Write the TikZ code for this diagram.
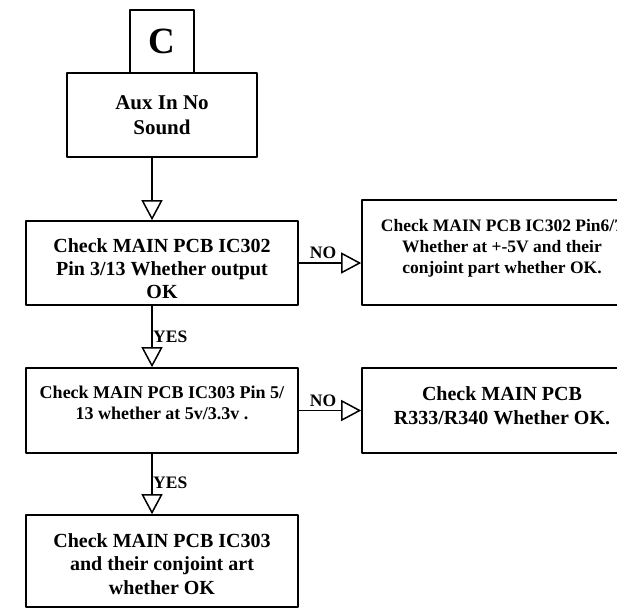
\documentclass[tikz,border=0pt]{standalone}
\usepackage{fontspec}
\setmainfont{Liberation Serif}
\usetikzlibrary{arrows.meta}
\tikzset{
    box/.style = {draw, line width=1.6pt, align=center, inner sep=0pt,
        font=\bfseries\fontsize{20}{23}\selectfont},
    flow/.style = {-{Triangle[open, length=20pt, width=21pt]}, line width=1.5pt},
    tag/.style = {inner sep=0pt, font=\bfseries\fontsize{17.5}{20}\selectfont}
}

\begin{document}
\begin{tikzpicture}[line cap=round,line join=round,x=1pt,y=-1pt]
    \useasboundingbox (0,0) rectangle (617,608);
    \clip (0,0) rectangle (617,608);

    \node [box, minimum width=64pt, minimum height=63pt,
        font=\bfseries\fontsize{37}{40}\selectfont] (start) at (162,41.5) {C};
    \node [box, minimum width=190pt, minimum height=84pt,
        font=\bfseries\fontsize{21}{25}\selectfont] (aux) at (162,115) {Aux In No\\Sound};

    \node [box, minimum width=272pt, minimum height=84pt] (ictwo) at (162,263)
        {\rule{0pt}{26pt}Check MAIN PCB IC302\\Pin 3/13 Whether output\\OK};
    \node [box, minimum width=280pt, minimum height=105pt,
        font=\bfseries\fontsize{17.5}{21}\selectfont] (pins) at (502,252.5)
        {Check MAIN PCB IC302 Pin6/7\\Whether at +-5V and their\\conjoint part whether OK.\rule[-12pt]{0pt}{0pt}};

    \node [box, minimum width=272pt, minimum height=85pt,
        font=\bfseries\fontsize{18}{21}\selectfont] (icthree) at (162,410.5)
        {Check MAIN PCB IC303 Pin 5/\\13 whether at 5v/3.3v .\rule[-16pt]{0pt}{0pt}};
    \node [box, minimum width=280pt, minimum height=85pt,
        font=\bfseries\fontsize{20}{24}\selectfont] (res) at (502,410.5)
        {Check MAIN PCB\\R333/R340 Whether OK.\rule[-10pt]{0pt}{0pt}};

    \node [box, minimum width=272pt, minimum height=92pt,
        font=\bfseries\fontsize{20}{23.5}\selectfont] (parts) at (162,561)
        {\rule{0pt}{20pt}Check MAIN PCB IC303\\and their conjoint art\\whether OK};

    % main column
    \coordinate (col) at (152,0);
    \draw [flow] (aux.south -| col) -- (ictwo.north -| col);
    \draw [flow] (ictwo.south -| col) -- (icthree.north -| col);
    \draw [flow] (icthree.south -| col) -- (parts.north -| col);

    % side branches
    \draw [flow] (ictwo.east) -- (ictwo.east -| pins.west);
    \draw [flow] (icthree.east) -- (icthree.east -| res.west);

    \node [tag, anchor=west] (yesone) at (153,337) {YES};
    \node [tag, anchor=west] (yestwo) at (153,483) {YES};
    \node [tag, anchor=south] (noone) at (323,259) {NO};
    \node [tag, anchor=south] (notwo) at (323,407) {NO};
\end{tikzpicture}
\end{document}
